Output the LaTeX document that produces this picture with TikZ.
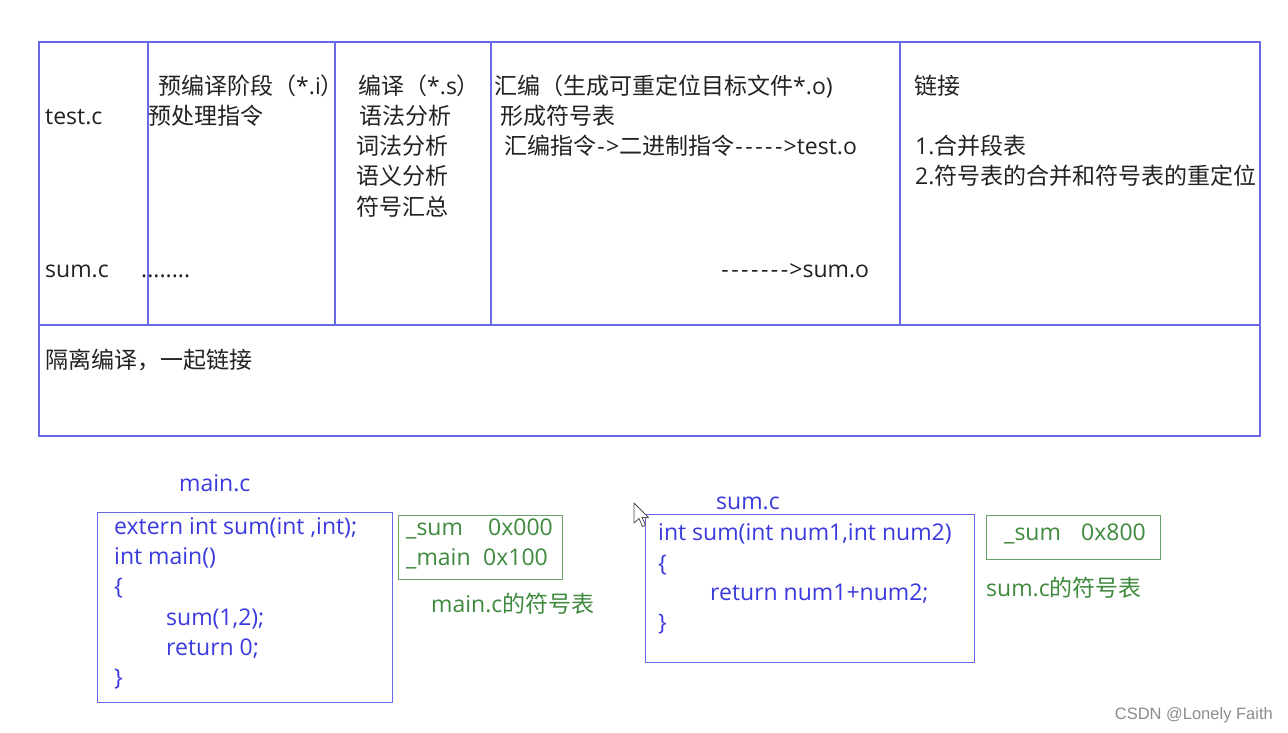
\documentclass[tikz,border=0pt]{standalone}
\usepackage{fontspec}
\setmainfont{Open Sans}
\newfontfamily\cjk{Noto Sans CJK SC}
\newfontfamily\wmfont{Liberation Sans}
\newcommand\hy{\makebox[0.43em][c]{-}}
\definecolor{tblue}{RGB}{104,104,232}
\definecolor{cblue}{RGB}{58,58,222}
\definecolor{gtext}{RGB}{62,138,62}
\definecolor{gline}{RGB}{104,160,104}
\definecolor{dtext}{RGB}{34,34,34}
\tikzset{
  txt/.style={anchor=west,inner sep=0pt,text height=20pt,text depth=4pt,font=\fontsize{23}{27}\selectfont,text=dtext},
  code/.style={txt,text=cblue},
  gcode/.style={txt,text=gtext},
  tline/.style={draw=tblue,line width=1.6pt},
  codebox/.style={draw=tblue,line width=1.4pt,anchor=north west,inner sep=0pt},
  symbox/.style={draw=gline,line width=1.2pt,anchor=north west,inner sep=0pt}
}
\begin{document}
\begin{tikzpicture}[x=1pt,y=-1pt]
\useasboundingbox (0,0) rectangle (1288,733);
\fill[white] (0,0) rectangle (1288,733);
% table
\draw[tline] (39,42) rectangle (1260,436);
\draw[tline] (39,325) -- (1260,325);
\foreach \xx in {148,335,491,900} \draw[tline] (\xx,42) -- (\xx,325);
% column texts
\node[txt] (testc) at (45,117) {test.c};
\node[txt] (sumc) at (45,269) {sum.c};
\node[txt] (pre1) at (158,87) {{\cjk 预编译阶段（}*.i{\cjk ）}};
\node[txt] (pre2) at (148,117) {{\cjk 预处理指令}};
\node[txt] (dots) at (141,269) {........};
\node[txt] (comp1) at (358,87) {{\cjk 编译（}*.s{\cjk ）}};
\node[txt] (comp2) at (359,117) {{\cjk 语法分析}};
\node[txt] (comp3) at (356,147) {{\cjk 词法分析}};
\node[txt] (comp4) at (356,177) {{\cjk 语义分析}};
\node[txt] (comp5) at (356,207) {{\cjk 符号汇总}};
\node[txt] (asm1) at (494,87) {{\cjk 汇编（生成可重定位目标文件}*.o)};
\node[txt] (asm2) at (500,117) {{\cjk 形成符号表}};
\node[txt] (asm3) at (504,147) {{\cjk 汇编指令}\hy>{\cjk 二进制指令}\hy\hy\hy\hy\hy>test.o};
\node[txt] (asm4) at (720,269) {\hy\hy\hy\hy\hy\hy\hy>sum.o};
\node[txt] (lnk1) at (914,87) {{\cjk 链接}};
\node[txt] (lnk2) at (915,147) {1.{\cjk 合并段表}};
\node[txt] (lnk3) at (915,177) {2.{\cjk 符号表的合并和符号表的重定位}};
\node[txt] (iso) at (45,360) {{\cjk 隔离编译，一起链接}};
% main.c
\node[code] (mainlbl) at (179,483) {main.c};
\node[codebox,minimum width=295pt,minimum height=190pt] (mainbox) at (97,512) {};
\node[code] (m1) at (114,526) {extern int sum(int ,int);};
\node[code] (m2) at (114,556) {int main()};
\node[code] (m3) at (114,586) {\{};
\node[code] (m4) at (166,617) {sum(1,2);};
\node[code] (m5) at (166,647) {return 0;};
\node[code] (m6) at (114,677) {\}};
\node[symbox,minimum width=164pt,minimum height=64pt] (mainsym) at (398,515) {};
\node[gcode] (ms1) at (406,527) {\makebox[82pt][l]{\_sum}0x000};
\node[gcode] (ms2) at (406,557) {\makebox[77pt][l]{\_main}0x100};
\node[gcode] (msl) at (431,604) {main.c{\cjk 的符号表}};
% sum.c
\node[code] (sumlbl) at (716,501) {sum.c};
\node[codebox,minimum width=329pt,minimum height=148pt] (sumbox) at (645,514) {};
\node[code] (s1) at (658,532) {int sum(int num1,int num2)};
\node[code] (s2) at (658,563) {\{};
\node[code] (s3) at (710,592) {return num1+num2;};
\node[code] (s4) at (658,622) {\}};
\node[symbox,minimum width=174pt,minimum height=44pt] (sumsym) at (986,515) {};
\node[gcode] (ss1) at (1004,532) {\makebox[77pt][l]{\_sum}0x800};
\node[gcode] (ssl) at (986,588) {sum.c{\cjk 的符号表}};
% mouse cursor
\filldraw[fill=white,draw=black!70,line width=0.8pt,line join=round]
  (634,503) -- (634,523) -- (639,518.5) -- (642.5,526.5) -- (645.5,525) -- (642,517.5) -- (648.5,517.5) -- cycle;
% watermark
\node[anchor=east,inner sep=0pt,font=\wmfont\fontsize{16.5}{19}\selectfont,text=black!45] (wm) at (1273,715) {CSDN @Lonely Faith};
\end{tikzpicture}
\end{document}
